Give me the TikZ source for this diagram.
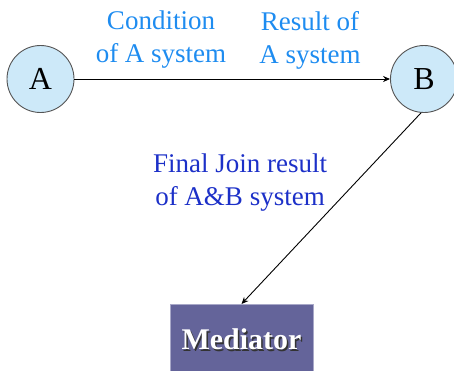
\documentclass[tikz,border=0pt]{standalone}
\usepackage{fontspec}
\setmainfont{Liberation Serif}
\usetikzlibrary{positioning,arrows.meta}
\definecolor{SysFill}{HTML}{CDE9F9}
\definecolor{SysLine}{HTML}{555555}
\definecolor{LblLight}{HTML}{1E8CF0}
\definecolor{LblDark}{HTML}{1C30C8}
\definecolor{MedFill}{HTML}{64649A}
\definecolor{MedLine}{HTML}{A8A8C8}
\begin{document}
\begin{tikzpicture}[x=1pt,y=-1pt,>={Stealth[length=7pt,width=6pt]}]
  \tikzstyle{sysnode}=[circle,draw=SysLine,fill=SysFill,line width=0.9pt,
    minimum size=67pt,inner sep=0pt,font=\fontsize{32}{34}\selectfont]
  \tikzstyle{lbl}=[align=center,font=\fontsize{27}{33}\selectfont]
  \useasboundingbox (0,0) rectangle (454,370);
  \node[sysnode] (a) at (40.5,79) {A};
  \node[sysnode] (b) at (424,79) {B};
  \node[lbl,text=LblLight] (cond) at (161,40) {Condition\\of A system};
  \node[lbl,text=LblLight] (res) at (310,40) {Result of\\A system};
  \node[lbl,text=LblDark] (fin) at (240,183) {Final Join result\\of A\&B system};
  \node[draw=MedLine,fill=MedFill,line width=0.8pt,minimum width=143pt,
    minimum height=70pt,anchor=north] (med) at (241.5,304) {};
  \node[text=black!80,font=\fontsize{30}{32}\bfseries,anchor=center]
    (medshadow) at ([shift={(1.5,1.5)}]med.center) {Mediator};
  \node[text=white,font=\fontsize{30}{32}\bfseries,anchor=center]
    (medtext) at (med.center) {Mediator};
  \draw[->,line width=0.9pt] (a)--(b);
  \draw[->,line width=0.9pt] (b.-95)--(med.north);
\end{tikzpicture}
\end{document}
